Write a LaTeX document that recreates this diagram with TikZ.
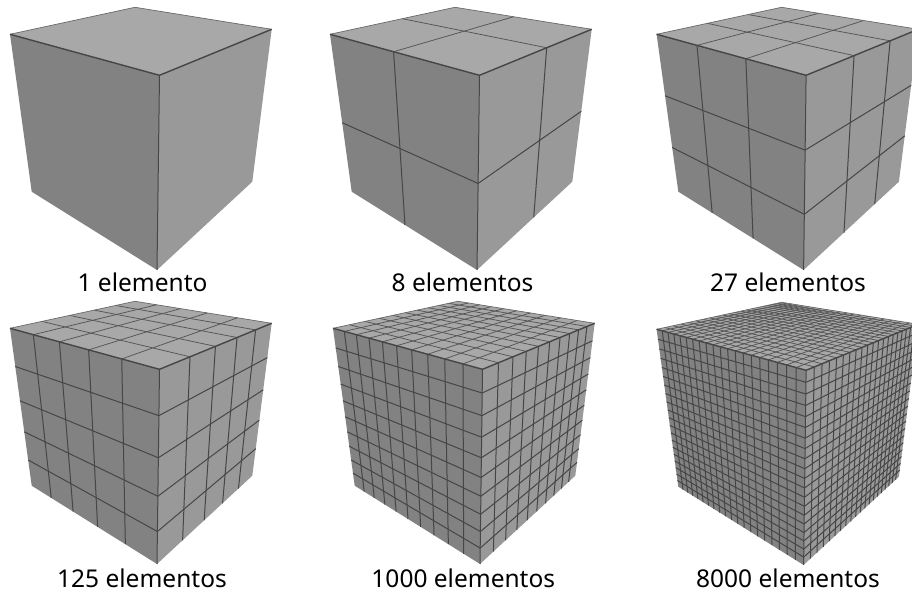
\documentclass[tikz,border=0pt]{standalone}
\usepackage{fontspec}
\setmainfont{Noto Sans}
\usetikzlibrary{calc}
\definecolor{topColor}{RGB}{168,168,168}
\definecolor{leftColor}{RGB}{130,130,130}
\definecolor{rightColor}{RGB}{153,153,153}
\definecolor{meshColor}{RGB}{70,70,70}
\definecolor{backColor}{RGB}{105,105,105}
\tikzset{
  meshline/.style={draw=meshColor,line width=1pt},
  topline/.style={meshline/.style={draw=meshColor!85!topColor,line width=0.75pt}},
  edgeline/.style={draw=meshColor,line width=1.4pt},
  backline/.style={draw=backColor,line width=0.7pt},
  cubelabel/.style={text=black,anchor=base,inner sep=0pt,outer sep=0pt,font=\fontsize{24.5}{30}\selectfont}
}
\newcommand{\meshlines}[7]{%
  \ifnum#7>1
    \pgfmathtruncatemacro{\lastline}{#7-1}
    \foreach \i in {1,...,\lastline}{
      \pgfmathsetmacro{\ta}{(\i/#7)/(\i/#7+#3*(1-\i/#7))}
      \pgfmathsetmacro{\tb}{(\i/#7)/(\i/#7+#6*(1-\i/#7))}
      \draw[meshline] ($(#1)!\ta!(#2)$) -- ($(#4)!\tb!(#5)$);
    }
  \fi}
\begin{document}
\begin{tikzpicture}[x=1pt,y=1pt]
\path[use as bounding box,fill=white] (0,0) rectangle (912,596);
\clip (0,0) rectangle (912,596);
\foreach \cubex/\cubey/\cuben/\labelx/\labely/\labeltext in {
    0/0/1/142.5/304/1 elemento,
    320/0/2/462.5/304/8 elementos,
    646.6/0/3/788/304/27 elementos,
    0/-294/5/142/8/125 elementos,
    323/-294/10/463.3/8/1000 elementos,
    646.6/-295/20/788/8/8000 elementos}{
  \begin{scope}[shift={(\cubex,\cubey)}]
    \coordinate (back) at (135,588.7);
    \coordinate (left) at (10,561.7);
    \coordinate (right) at (271.7,566.7);
    \coordinate (front) at (159.5,520.7);
    \coordinate (foot) at (157,326);
    \coordinate (footleft) at (31.7,404.3);
    \coordinate (footright) at (252.3,414.3);
  \end{scope}
  \path[fill=topColor] (back) -- (left) -- (front) -- (right) -- cycle;
  \path[fill=leftColor] (left) -- (front) -- (foot) -- (footleft) -- cycle;
  \path[fill=rightColor] (front) -- (right) -- (footright) -- (foot) -- cycle;
  \meshlines{front}{left}{0.74}{foot}{footleft}{0.74}{\cuben}
  \meshlines{front}{foot}{0.8}{left}{footleft}{0.78}{\cuben}
  \meshlines{front}{right}{0.67}{foot}{footright}{0.68}{\cuben}
  \meshlines{front}{foot}{0.8}{right}{footright}{0.86}{\cuben}
  \begin{scope}[topline]
    \meshlines{front}{left}{0.74}{right}{back}{0.75}{\cuben}
    \meshlines{front}{right}{0.67}{left}{back}{0.73}{\cuben}
  \end{scope}
  \draw[backline] (left) -- (back) -- (right);
  \draw[edgeline] (left) -- (front) -- (right);
  \draw[meshline] (front) -- (foot);
  \node[cubelabel] (label\cuben) at (\labelx,\labely) {\labeltext};
}
\end{tikzpicture}
\end{document}
